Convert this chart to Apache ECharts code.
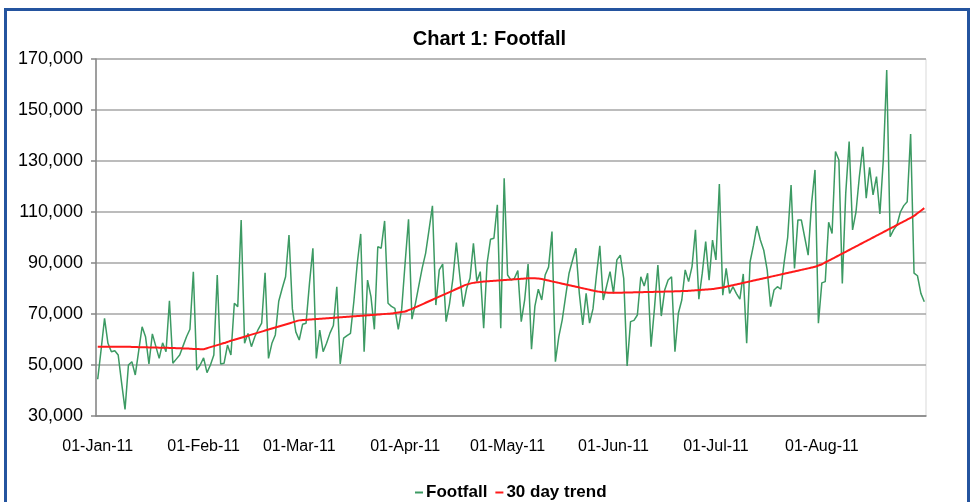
<!DOCTYPE html>
<html>
<head>
<meta charset="utf-8">
<script src="https://cdn.jsdelivr.net/npm/echarts@6/dist/echarts.min.js"></script>
<style>
  html, body { margin: 0; padding: 0; background: #fff; overflow: hidden; }
  #frame { position: absolute; left: 4px; top: 8px; width: 966px; height: 600px; border: 3px solid #24549f; box-sizing: border-box; }
  #chart { position: absolute; left: 0; top: 0; width: 979px; height: 502px; }
</style>
</head>
<body>
<div id="frame"></div>
<div id="chart"></div>
<script>
// daily footfall, 01-Jan-11 .. 31-Aug-11 (243 days)
const footfall = [
  44400, 56000, 68300, 58500, 55200, 55600, 53900, 43000, 32600, 50000,
  51300, 46100, 55500, 65000, 61100, 50400, 62200, 57400, 52600, 58700,
  55200, 75200, 50700, 52300, 53900, 57500, 61100, 64000, 86600, 48000,
  50000, 52800, 47000, 50000, 53900, 85300, 50400, 50700, 57800, 53900,
  74200, 72900, 106900, 58500, 62400, 57200, 61100, 64000, 66400, 86200,
  52600, 58500, 61800, 75000, 80000, 84600, 101000, 72000, 63000, 59800,
  66000, 66400, 82000, 95800, 52600, 63700, 55200, 58500, 62500, 65500,
  80700, 50400, 60500, 61500, 62400, 75000, 90000, 101400, 55200, 83300,
  76800, 64000, 96400, 95800, 106500, 74200, 73000, 72200, 64000, 72000,
  90000, 107100, 68000, 74000, 81000, 88000, 93800, 103000, 112400, 73500,
  87300, 89600, 67000, 74000, 84000, 98000, 85000, 72900, 80000, 84000,
  97700, 82700, 86600, 64400, 89900, 99300, 99700, 112800, 64400, 123200,
  85300, 83300, 84000, 87000, 67000, 75500, 89600, 56200, 73100, 79700,
  75500, 85300, 88400, 102300, 51300, 61100, 67700, 77000, 86000, 91000,
  95800, 78100, 65700, 78100, 66400, 72000, 85000, 96700, 75500, 81000,
  86600, 78100, 91200, 93100, 84000, 49600, 67000, 67500, 69600, 84600,
  81000, 86000, 57200, 72200, 89200, 69200, 79400, 83300, 84600, 55200,
  70300, 75500, 87300, 82700, 88600, 103000, 75800, 86000, 98400, 83300,
  99000, 91200, 121000, 77400, 87900, 78100, 80700, 78000, 75800, 85700,
  58500, 90500, 97000, 104500, 99000, 95000, 87300, 72900, 79400, 80700,
  79700, 90500, 100000, 120600, 87900, 106900, 106900, 100000, 93100, 113400,
  126500, 66400, 82200, 82700, 106000, 101600, 133700, 130400, 82000, 117300,
  137600, 103000, 110000, 124000, 135600, 115400, 127500, 116700, 123900, 109200,
  130400, 165700, 100300, 103000, 104900, 110000, 112500, 114000, 140600, 86000,
  85000, 78100, 74800
];

const trend = [
  57200, 57200, 57200, 57200, 57200, 57200, 57200, 57200, 57200, 57200,
  57100, 57100, 57000, 57000, 57000, 56900, 56900, 56900, 56800, 56800,
  56800, 56700, 56700, 56600, 56600, 56500, 56500, 56400, 56300, 56300,
  56200, 56200, 56600, 57000, 57400, 57800, 58200, 58600, 59000, 59500,
  59900, 60300, 60700, 61100, 61500, 61900, 62300, 62700, 63100, 63500,
  63900, 64300, 64700, 65100, 65500, 65900, 66300, 66700, 67100, 67500,
  67600, 67700, 67800, 67900, 68000, 68100, 68200, 68300, 68400, 68500,
  68600, 68700, 68800, 68900, 69000, 69100, 69200, 69300, 69400, 69500,
  69600, 69700, 69800, 69900, 70000, 70100, 70200, 70400, 70600, 70800,
  71000, 71500, 72000, 72600, 73200, 73800, 74400, 75000, 75600, 76200,
  76800, 77400, 78000, 78600, 79200, 79800, 80400, 81000, 81500, 81900,
  82200, 82400, 82600, 82700, 82800, 82900, 83000, 83100, 83200, 83300,
  83400, 83500, 83600, 83700, 83800, 83900, 84000, 84000, 84000, 83900,
  83700, 83400, 83100, 82800, 82500, 82200, 81900, 81600, 81300, 81000,
  80700, 80400, 80100, 79800, 79500, 79200, 78900, 78700, 78500, 78400,
  78300, 78300, 78300, 78300, 78400, 78400, 78400, 78500, 78500, 78500,
  78600, 78600, 78600, 78700, 78700, 78700, 78800, 78800, 78800, 78900,
  78900, 79000, 79000, 79100, 79200, 79300, 79400, 79500, 79600, 79700,
  79800, 80000, 80200, 80400, 80700, 81000, 81300, 81600, 81900, 82200,
  82500, 82800, 83100, 83400, 83700, 84000, 84300, 84600, 84900, 85200,
  85500, 85800, 86100, 86400, 86700, 87000, 87300, 87600, 87900, 88200,
  88500, 89000, 89500, 90200, 90900, 91600, 92300, 93000, 93700, 94400,
  95100, 95800, 96500, 97200, 97900, 98600, 99300, 100000, 100700, 101400,
  102100, 102800, 103500, 104200, 104900, 105600, 106300, 107000, 107700, 108500,
  109500, 110500, 111500
];

const monthNames = ['Jan', 'Feb', 'Mar', 'Apr', 'May', 'Jun', 'Jul', 'Aug'];
const monthDays = [31, 28, 31, 30, 31, 30, 31, 31];

// one category per day, label like 01-Jan-11
const days = [];
monthNames.forEach((m, i) => {
  for (let d = 1; d <= monthDays[i]; d++) {
    days.push((d < 10 ? '0' + d : d) + '-' + m + '-11');
  }
});

const isMonthStart = (idx, val) => val.slice(0, 2) === '01';
const fmt = v => String(v).replace(/\B(?=(\d{3})+(?!\d))/g, ',');
const font = "'Liberation Sans', Arial, sans-serif";

const chart = echarts.init(document.getElementById('chart'));
chart.setOption({
  animation: false,
  title: {
    text: 'Chart 1: Footfall',
    left: 'center',
    top: 24,
    textStyle: { fontFamily: font, fontSize: 20, fontWeight: 'bold', color: '#000' }
  },
  legend: {
    top: 479,
    left: 410,
    itemWidth: 8,
    itemHeight: 2,
    itemGap: 8,
    icon: 'rect',
    textStyle: { fontFamily: font, fontSize: 17, fontWeight: 'bold', color: '#000', padding: [0, 0, 0, -2] },
    data: ['Footfall', '30 day trend']
  },
  grid: {
    left: 96, right: 53, top: 59, bottom: 86,
    show: true, borderColor: '#d9d9d9', borderWidth: 1
  },
  xAxis: {
    type: 'category',
    data: days,
    boundaryGap: true,
    axisLine: { lineStyle: { color: '#868686', width: 1.5 } },
    axisTick: { interval: isMonthStart, length: 6, lineStyle: { color: '#868686', width: 1.5 } },
    axisLabel: {
      interval: isMonthStart,
      margin: 23,
      fontFamily: font, fontSize: 16, color: '#000'
    },
    splitLine: { show: false }
  },
  yAxis: {
    type: 'value',
    min: 30000,
    max: 170000,
    interval: 20000,
    axisLine: { show: true, lineStyle: { color: '#868686', width: 1.5 } },
    axisTick: { show: true, length: 5, lineStyle: { color: '#868686', width: 1.5 } },
    axisLabel: {
      margin: 13,
      formatter: fmt,
      fontFamily: font, fontSize: 18, color: '#000'
    },
    splitLine: { lineStyle: { color: '#a6a6a6', width: 1.5 } }
  },
  series: [
    {
      name: 'Footfall',
      type: 'line',
      data: footfall,
      symbol: 'none',
      lineStyle: { color: '#3c9a63', width: 1.5 },
      itemStyle: { color: '#3c9a63' }
    },
    {
      name: '30 day trend',
      type: 'line',
      data: trend,
      symbol: 'none',
      smooth: true,
      lineStyle: { color: '#ff1a1a', width: 2 },
      itemStyle: { color: '#ff1a1a' }
    }
  ]
});
</script>
</body>
</html>
